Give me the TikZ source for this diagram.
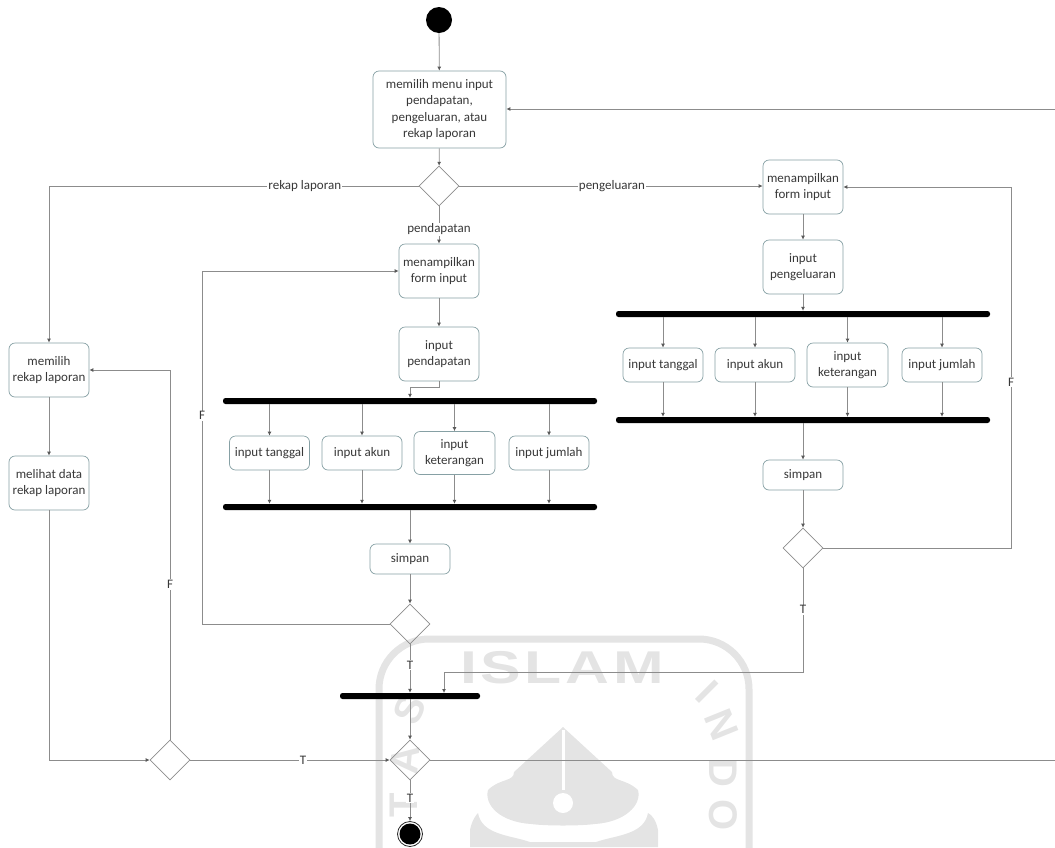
\documentclass[tikz,border=0pt]{standalone}
\usepackage{fontspec}
\setmainfont{Carlito}
\newfontfamily\wmfont[LetterSpace=6]{Liberation Sans}
\usetikzlibrary{arrows.meta,shapes.geometric}
\definecolor{edgec}{HTML}{8C8C8C}
\definecolor{boxc}{HTML}{86A0A4}
\definecolor{wm}{HTML}{E4E4E4}
\tikzset{
  act/.style={draw=boxc,line width=0.7pt,rounded corners=6pt,fill=white,align=center,inner sep=0pt,font=\fontsize{13}{16.2}\selectfont,text=black!78},
  dec/.style={diamond,draw=edgec,line width=0.7pt,minimum width=40pt,minimum height=40pt,inner sep=0pt},
  barh/.style={draw=none,fill=black,rounded corners=2.5pt,minimum height=6pt,inner sep=0pt},
  flow/.style={draw=edgec,line width=0.8pt,-{Latex[length=4pt,width=4pt,color=black!65]}},
  plain/.style={draw=edgec,line width=0.8pt},
  lab/.style={fill=white,inner sep=1pt,font=\fontsize{13}{15}\selectfont,text=black!78},
  wmtext/.style={text=wm,font=\fontsize{46}{46}\selectfont\wmfont\bfseries},
  wmside/.style={text=wm,font=\fontsize{40}{40}\selectfont\wmfont\bfseries}
}
\begin{document}
\begin{tikzpicture}[x=1pt,y=-1pt]
\useasboundingbox (0,0) rectangle (1055,847);
% watermark
\draw[wm,line width=7pt,rounded corners=50pt] (379,860) -- (379,639) -- (749,639) -- (749,860);
\node[wmtext,xscale=1.32] (wmA) at (562,668) {ISLAM};
\node[wmside,rotate=-45] (wmB) at (707,692) {I};
\node[wmside,rotate=-68] (wmC) at (722,725) {N};
\node[wmside,rotate=-90] (wmD) at (723,773) {D};
\node[wmside,rotate=-90] (wmE) at (723,815) {O};
\node[wmside,rotate=65] (wmF) at (410,710) {S};
\node[wmside,rotate=85] (wmG) at (405,760) {A};
\node[wmside,rotate=90] (wmH) at (404,805) {T};
\fill[wm] (563,727) -- (612,772) .. controls (612,782) and (625,778) .. (638,790)
  .. controls (642,805) and (625,822) .. (595,824) .. controls (580,826) and (546,826) .. (531,824)
  .. controls (500,822) and (484,805) .. (488,790) .. controls (500,778) and (514,782) .. (514,772) -- cycle;
\fill[white] (561.5,730) rectangle (564.5,790);
\fill[white] (563,803) circle (10);
\fill[wm] (470,830) .. controls (472,820) and (476,815) .. (478,813) .. controls (482,835) and (510,835) .. (530,842)
  -- (596,842) .. controls (616,835) and (644,835) .. (648,813) .. controls (652,815) and (656,820) .. (658,830)
  -- (658,847) -- (470,847) -- cycle;

% nodes
\node[circle,fill=black,minimum size=26pt,inner sep=0pt] (start) at (439,20) {};
\node[act,minimum width=133pt,minimum height=77pt] (menu) at (439.5,109.5) {memilih menu input\\pendapatan,\\pengeluaran, atau\\rekap laporan};
\node[dec] (d1) at (439,186) {};
\node[act,minimum width=80pt,minimum height=54pt] (formL) at (439,271) {menampilkan\\form input};
\node[act,minimum width=80pt,minimum height=54pt] (inL) at (439,354) {input\\pendapatan};
\node[barh,minimum width=374pt] (barA) at (410,401) {};
\node[act,minimum width=80pt,minimum height=34pt] (tgL) at (269.5,453) {input tanggal};
\node[act,minimum width=80pt,minimum height=34pt] (akL) at (362,453) {input akun};
\node[act,minimum width=81pt,minimum height=43pt] (ktL) at (454.5,453) {input\\keterangan};
\node[act,minimum width=80pt,minimum height=34pt] (jmL) at (549,453) {input jumlah};
\node[barh,minimum width=374pt] (barB) at (410,507) {};
\node[act,minimum width=80pt,minimum height=30pt] (smL) at (410,559) {simpan};
\node[dec] (d2) at (410,624) {};
\node[barh,minimum width=140pt] (barC) at (410,696) {};
\node[dec] (d3) at (410,760) {};
\node[circle,draw=black!85,line width=0.8pt,minimum size=25pt,inner sep=0pt] (end) at (410,834) {};
\node[circle,fill=black,minimum size=21pt,inner sep=0pt] (endin) at (410,834) {};
\node[act,minimum width=80pt,minimum height=54pt] (rek) at (49,370) {memilih\\rekap laporan};
\node[act,minimum width=80pt,minimum height=54pt] (see) at (49,483) {melihat data\\rekap laporan};
\node[dec] (d4) at (170,760) {};
\node[act,minimum width=80pt,minimum height=54pt] (formR) at (803,187) {menampilkan\\form input};
\node[act,minimum width=80pt,minimum height=54pt] (inR) at (803,267) {input\\pengeluaran};
\node[barh,minimum width=374pt] (barD) at (803,314) {};
\node[act,minimum width=80pt,minimum height=34pt] (tgR) at (663,365) {input tanggal};
\node[act,minimum width=80pt,minimum height=34pt] (akR) at (755,365) {input akun};
\node[act,minimum width=81pt,minimum height=44pt] (ktR) at (847.5,365) {input\\keterangan};
\node[act,minimum width=80pt,minimum height=34pt] (jmR) at (942,365) {input jumlah};
\node[barh,minimum width=374pt] (barE) at (803,420) {};
\node[act,minimum width=80pt,minimum height=30pt] (smR) at (803,475) {simpan};
\node[dec] (d5) at (803,548) {};
\coordinate (edgeT) at (1055,109);
\coordinate (edgeB) at (1055,760);

% connectors
\draw[flow] (start) -- (menu);
\draw[flow] (menu) -- (d1);
\draw[flow] (d1.south) -- node[lab,pos=0.62]{pendapatan} (formL.north);
\draw[flow] (d1.west) -- node[lab,pos=0.308]{rekap laporan} (rek.north |- d1.west) -- (rek.north);
\draw[flow] (d1.east) -- node[lab,pos=0.503]{pengeluaran} (formR.west |- d1.east);
\draw[flow] (edgeT) -- (menu.east |- edgeT);
\draw[flow] (formL) -- (inL);
\draw[flow] (inL.south) -- ++(0,6) -| (barA.north);
\foreach \b in {tgL,akL,ktL,jmL}{
  \draw[flow] (\b.north |- barA.south) -- (\b.north);
  \draw[flow] (\b.south) -- (\b.south |- barB.north);
}
\draw[flow] (barB) -- (smL);
\draw[flow] (smL) -- (d2);
\draw[flow] (d2.west) -- (202,624) -- node[lab,pos=0.59]{F} (202,271) -- (formL.west);
\draw[flow] (d2.south) -- node[lab,pos=0.43]{T} (barC.north);
\draw[flow] (barC) -- (d3);
\draw[flow] (d3.south) -- node[lab,pos=0.43]{T} (end.north);
\draw[plain] (d3.east) -- (edgeB);
\draw[flow] (rek) -- (see);
\draw[flow] (see.south) |- (d4.west);
\draw[flow] (d4.north) -- node[lab,pos=0.42]{F} (d4.north |- rek.east) -- (rek.east);
\draw[flow] (d4.east) -- node[lab,pos=0.565]{T} (d3.west);
\draw[flow] (formR) -- (inR);
\draw[flow] (inR) -- (barD);
\foreach \b in {tgR,akR,ktR,jmR}{
  \draw[flow] (\b.north |- barD.south) -- (\b.north);
  \draw[flow] (\b.south) -- (\b.south |- barE.north);
}
\draw[flow] (barE) -- (smR);
\draw[flow] (smR) -- (d5);
\draw[flow] (d5.east) -- (1011,548) -- node[lab,pos=0.46]{F} (1011,187) -- (formR.east);
\draw[flow] (d5.south) -- node[lab,pos=0.4]{T} (803,672) -- (444,672) -- (444,693);
\end{tikzpicture}
\end{document}
